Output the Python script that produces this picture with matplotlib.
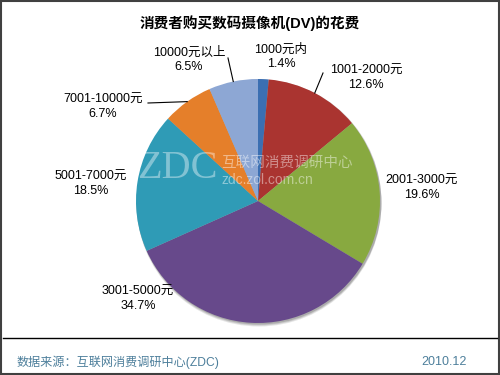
import numpy as np
import matplotlib.pyplot as plt
from matplotlib.patches import Rectangle, Circle

plt.rcParams['font.family'] = ['Liberation Sans', 'Noto Sans CJK SC', 'DejaVu Sans']

# data
categories = ['1000元内', '1001-2000元', '2001-3000元', '3001-5000元',
              '5001-7000元', '7001-10000元', '10000元以上']
shares = [1.4, 12.6, 19.6, 34.7, 18.5, 6.7, 6.5]
colors = ['#3b6fb2', '#aa3430', '#88a940', '#67498b', '#2f9bb6', '#e57f2a', '#8da7d4']

# label positions in pixels (x, y from top)
label_pos = [(281, 57), (366, 78), (422, 188), (138, 299),
             (91, 184), (103, 107), (189, 60)]
# where a leader line starts next to the label (None = no line)
leader_from = [None, (323, 73), None, None, None, (148, 103), (228, 58)]

W, H = 500, 375
cx, cy, r = 258, 201, 122


def py(y):
    return H - y


fig = plt.figure(figsize=(5, 3.75), dpi=100)
ax = fig.add_axes([0, 0, 1, 1])

# soft shadow under the pie
for k, a in [(3, 0.10), (2, 0.12), (1, 0.15)]:
    ax.add_patch(Circle((cx + 1, py(cy) - k), r + 0.5, color='black',
                        alpha=a, lw=0, zorder=0))

wedges, _ = ax.pie(shares, colors=colors, startangle=90, counterclock=False,
                   center=(cx, py(cy)), radius=r, frame=False,
                   wedgeprops=dict(linewidth=0, zorder=1))

ax.set_xlim(0, W)
ax.set_ylim(0, H)
ax.set_aspect('equal')
ax.axis('off')

# labels + leader lines
for w, name, val, pos, lf in zip(wedges, categories, shares, label_pos, leader_from):
    ax.text(pos[0], py(pos[1]), f'{name}\n{val}%', ha='center', va='center',
            fontsize=9, linespacing=1.25, color='black')
    if lf is not None:
        mid = np.deg2rad((w.theta1 + w.theta2) / 2)
        ex = cx + r * np.cos(mid)
        ey = py(cy) + r * np.sin(mid)
        ax.plot([lf[0], ex], [py(lf[1]), ey], color='black', lw=0.8)

# watermark
ax.text(137, py(169), 'ZDC', fontsize=29, family='Liberation Serif',
        color='white', alpha=0.4, va='center', ha='left', zorder=3)
ax.text(221, py(163), '互联网消费调研中心', fontsize=10.5, color='white',
        alpha=0.45, va='center', ha='left', zorder=3)
ax.text(221, py(180), 'zdc.zol.com.cn', fontsize=10, color='white',
        alpha=0.45, va='center', ha='left', zorder=3)

# title
ax.text(250, py(23), '消费者购买数码摄像机(DV)的花费', fontsize=10.5,
        fontweight='bold', ha='center', va='center')

# separator and footer
ax.plot([3, 497], [py(338), py(338)], color='black', lw=1)
ax.text(17, py(362), '数据来源：互联网消费调研中心(ZDC)', fontsize=8.7,
        color='#4d7f9b', ha='left', va='center')
ax.text(467, py(362), '2010.12', fontsize=9, color='#4d7f9b',
        ha='right', va='center')

# outer frame
ax.add_patch(Rectangle((0.8, 0.8), W - 1.6, H - 1.6, fill=False,
                       edgecolor='#404040', lw=1.5))

fig.savefig('out.png', dpi=100)
